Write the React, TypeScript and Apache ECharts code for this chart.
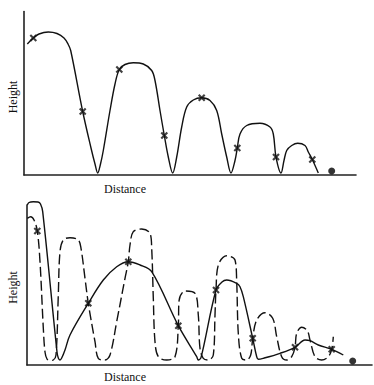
import React, { useEffect, useRef } from "react";
import * as echarts from "echarts";

// Top panel: ball path (distance, height) in arbitrary units
const topPath = [[3.3,131],[9.3,137],[15,141],[24.3,143],[33,141.5],[40,137],[44,131],[46.7,124.5],[58.7,63.5],[67,27],[71,11],[73.7,2],[76.5,11],[79.3,24.5],[86,64.5],[91,91],[95.3,105.5],[101,110.5],[109.3,112.2],[119.3,111],[127.7,104.5],[131,94.5],[136,64.5],[140.3,39.5],[144.3,18],[148.7,2],[152.7,18],[157.7,48],[162.7,68],[169.3,75],[177.7,77.2],[186,74.5],[192.7,64.5],[197.7,41],[202.7,18],[207,2],[211,14.5],[213.3,27],[216,41],[222.7,49.5],[236,51.8],[246,48],[249.3,41],[252,18],[257,2],[260,14.5],[262.7,24.5],[267.7,29.5],[273.7,31.8],[281,29.5],[284.3,23],[288.3,15.5],[294.3,2]];
const topMarks = [[9.3,137],[58.7,63.5],[95.3,105.5],[140.3,39.5],[177.7,77.2],[213.3,27],[252,18],[288.3,15.5]];
const topBall = [[307.7,4]];

// Bottom panel: perceived path (solid) and true path (dashed)
const bottomSolid = [[0.3,160],[2,162.5],[6.3,163.3],[11,163],[13.5,161],[15.7,153.3],[30,13],[31.3,7],[33,5],[34.7,7],[38,15],[43,30],[61.3,61.7],[76.3,85],[89.7,98.3],[101.3,103.3],[113,100],[124.7,93.3],[151.3,39.3],[169.7,8.3],[171.3,5],[174,7.3],[189,75],[195,83],[199.7,85],[209.7,81.7],[213,78.3],[216.3,68.3],[225.7,26.7],[229.7,8.3],[231.3,5.7],[236.3,6.7],[253,11.7],[268,17.7],[278,25],[283,24.3],[291.3,20],[304.7,15.7],[316.3,10]];
const bottomDashed = [[0.3,146.7],[3.7,148.3],[7,145],[10.3,134],[13,103.3],[16.3,37],[18,13],[20,6],[23,4.5],[26.3,5],[29,10],[31.3,70],[33,113.3],[36.3,125],[43,127.3],[51.3,125],[54,116.7],[58,86.7],[61.3,61.7],[68,23.3],[71.3,6.7],[78,5],[83,10],[89.7,43.3],[98,86.7],[101.3,103.3],[103,120],[106.3,133.3],[114.7,136],[123,131.7],[124.7,116.7],[126.3,67],[128,23.3],[131.3,8.3],[139.7,5],[148,8.3],[151.3,39.3],[152,64],[158,74],[168,71.7],[171.3,50],[173,16.7],[176.3,6.7],[181.3,5],[186.3,10],[188,50],[189,75],[191.3,100],[199.7,109.3],[208,105],[209.7,83.3],[211.3,31.7],[214.7,6.7],[219.7,5],[223.7,10],[225.7,26.7],[229.7,45],[238,52.3],[245.7,46.7],[249.7,28.3],[254.7,8.3],[259.7,5],[264.7,8.3],[268,17.7],[269.7,31.7],[274.7,37.7],[280.3,34.3],[283,25],[288,8.3],[294.7,5],[301.3,8.3],[304.7,15.7],[306.3,28.3]];
const bottomMarks = [[10.3,134],[61.3,61.7],[101.3,103.3],[151.3,39.3],[189,75],[225.7,26.7],[268,17.7],[304.7,15.7]];
const bottomBall = [[325.7,4]];

const xLabel = "Distance";
const yLabel = "Height";

const INK = "#111";
const FONT = "'Liberation Serif', 'DejaVu Serif', serif";
const CROSS = "path://M0,2L2,0L5,3L8,0L10,2L7,5L10,8L8,10L5,7L2,10L0,8L3,5Z";

export default function App() {
  const ref = useRef<HTMLDivElement>(null);
  useEffect(() => {
    if (!ref.current) return;
    const chart = echarts.init(ref.current, null, { renderer: "svg" });
    const axisCommon = {
      type: "value" as const,
      min: 0,
      axisLine: { show: true, onZero: false, lineStyle: { color: "#222", width: 1.6 } },
      axisTick: { show: false },
      axisLabel: { show: false },
      splitLine: { show: false },
    };
    const lineSeries = (data: number[][], idx: number, dashed: boolean) => ({
      type: "line",
      xAxisIndex: idx,
      yAxisIndex: idx,
      data,
      smooth: 0.35,
      showSymbol: false,
      clip: false,
      lineStyle: { color: INK, width: 1.4, type: dashed ? [10, 4] : "solid" },
      z: 2,
    });
    const markSeries = (data: number[][], idx: number) => ({
      type: "scatter",
      xAxisIndex: idx,
      yAxisIndex: idx,
      data,
      symbol: CROSS,
      symbolSize: 7.5,
      itemStyle: { color: INK },
      z: 3,
    });
    const ballSeries = (data: number[][], idx: number) => ({
      type: "scatter",
      xAxisIndex: idx,
      yAxisIndex: idx,
      data,
      symbol: "circle",
      symbolSize: 7,
      itemStyle: { color: "#000" },
      z: 3,
    });
    const textStyle = (t: string) => ({ text: t, font: `12px ${FONT}`, fill: INK, align: "center", verticalAlign: "middle" });
    chart.setOption({
      animation: false,
      backgroundColor: "#fff",
      grid: [
        { left: 24, top: 11.5, width: 332, height: 163.5 },
        { left: 27, top: 205, width: 345, height: 160 },
      ],
      xAxis: [
        { ...axisCommon, gridIndex: 0, max: 332 },
        { ...axisCommon, gridIndex: 1, max: 345 },
      ],
      yAxis: [
        { ...axisCommon, gridIndex: 0, max: 163.5 },
        { ...axisCommon, gridIndex: 1, max: 160 },
      ],
      series: [
        lineSeries(topPath, 0, false),
        markSeries(topMarks, 0),
        ballSeries(topBall, 0),
        lineSeries(bottomSolid, 1, false),
        lineSeries(bottomDashed, 1, true),
        markSeries(bottomMarks, 1),
        ballSeries(bottomBall, 1),
      ],
      graphic: [
        { type: "text", x: 125, y: 189, style: textStyle(xLabel) },
        { type: "text", x: 13, y: 97, rotation: Math.PI / 2, style: textStyle(yLabel) },
        { type: "text", x: 125, y: 376.5, style: textStyle(xLabel) },
        { type: "text", x: 13.3, y: 287.5, rotation: Math.PI / 2, style: textStyle(yLabel) },
      ],
    });
    return () => chart.dispose();
  }, []);
  return (
    <div
      ref={ref}
      style={{ position: "fixed", left: 0, top: 0, width: 374, height: 385, background: "#fff" }}
    />
  );
}
